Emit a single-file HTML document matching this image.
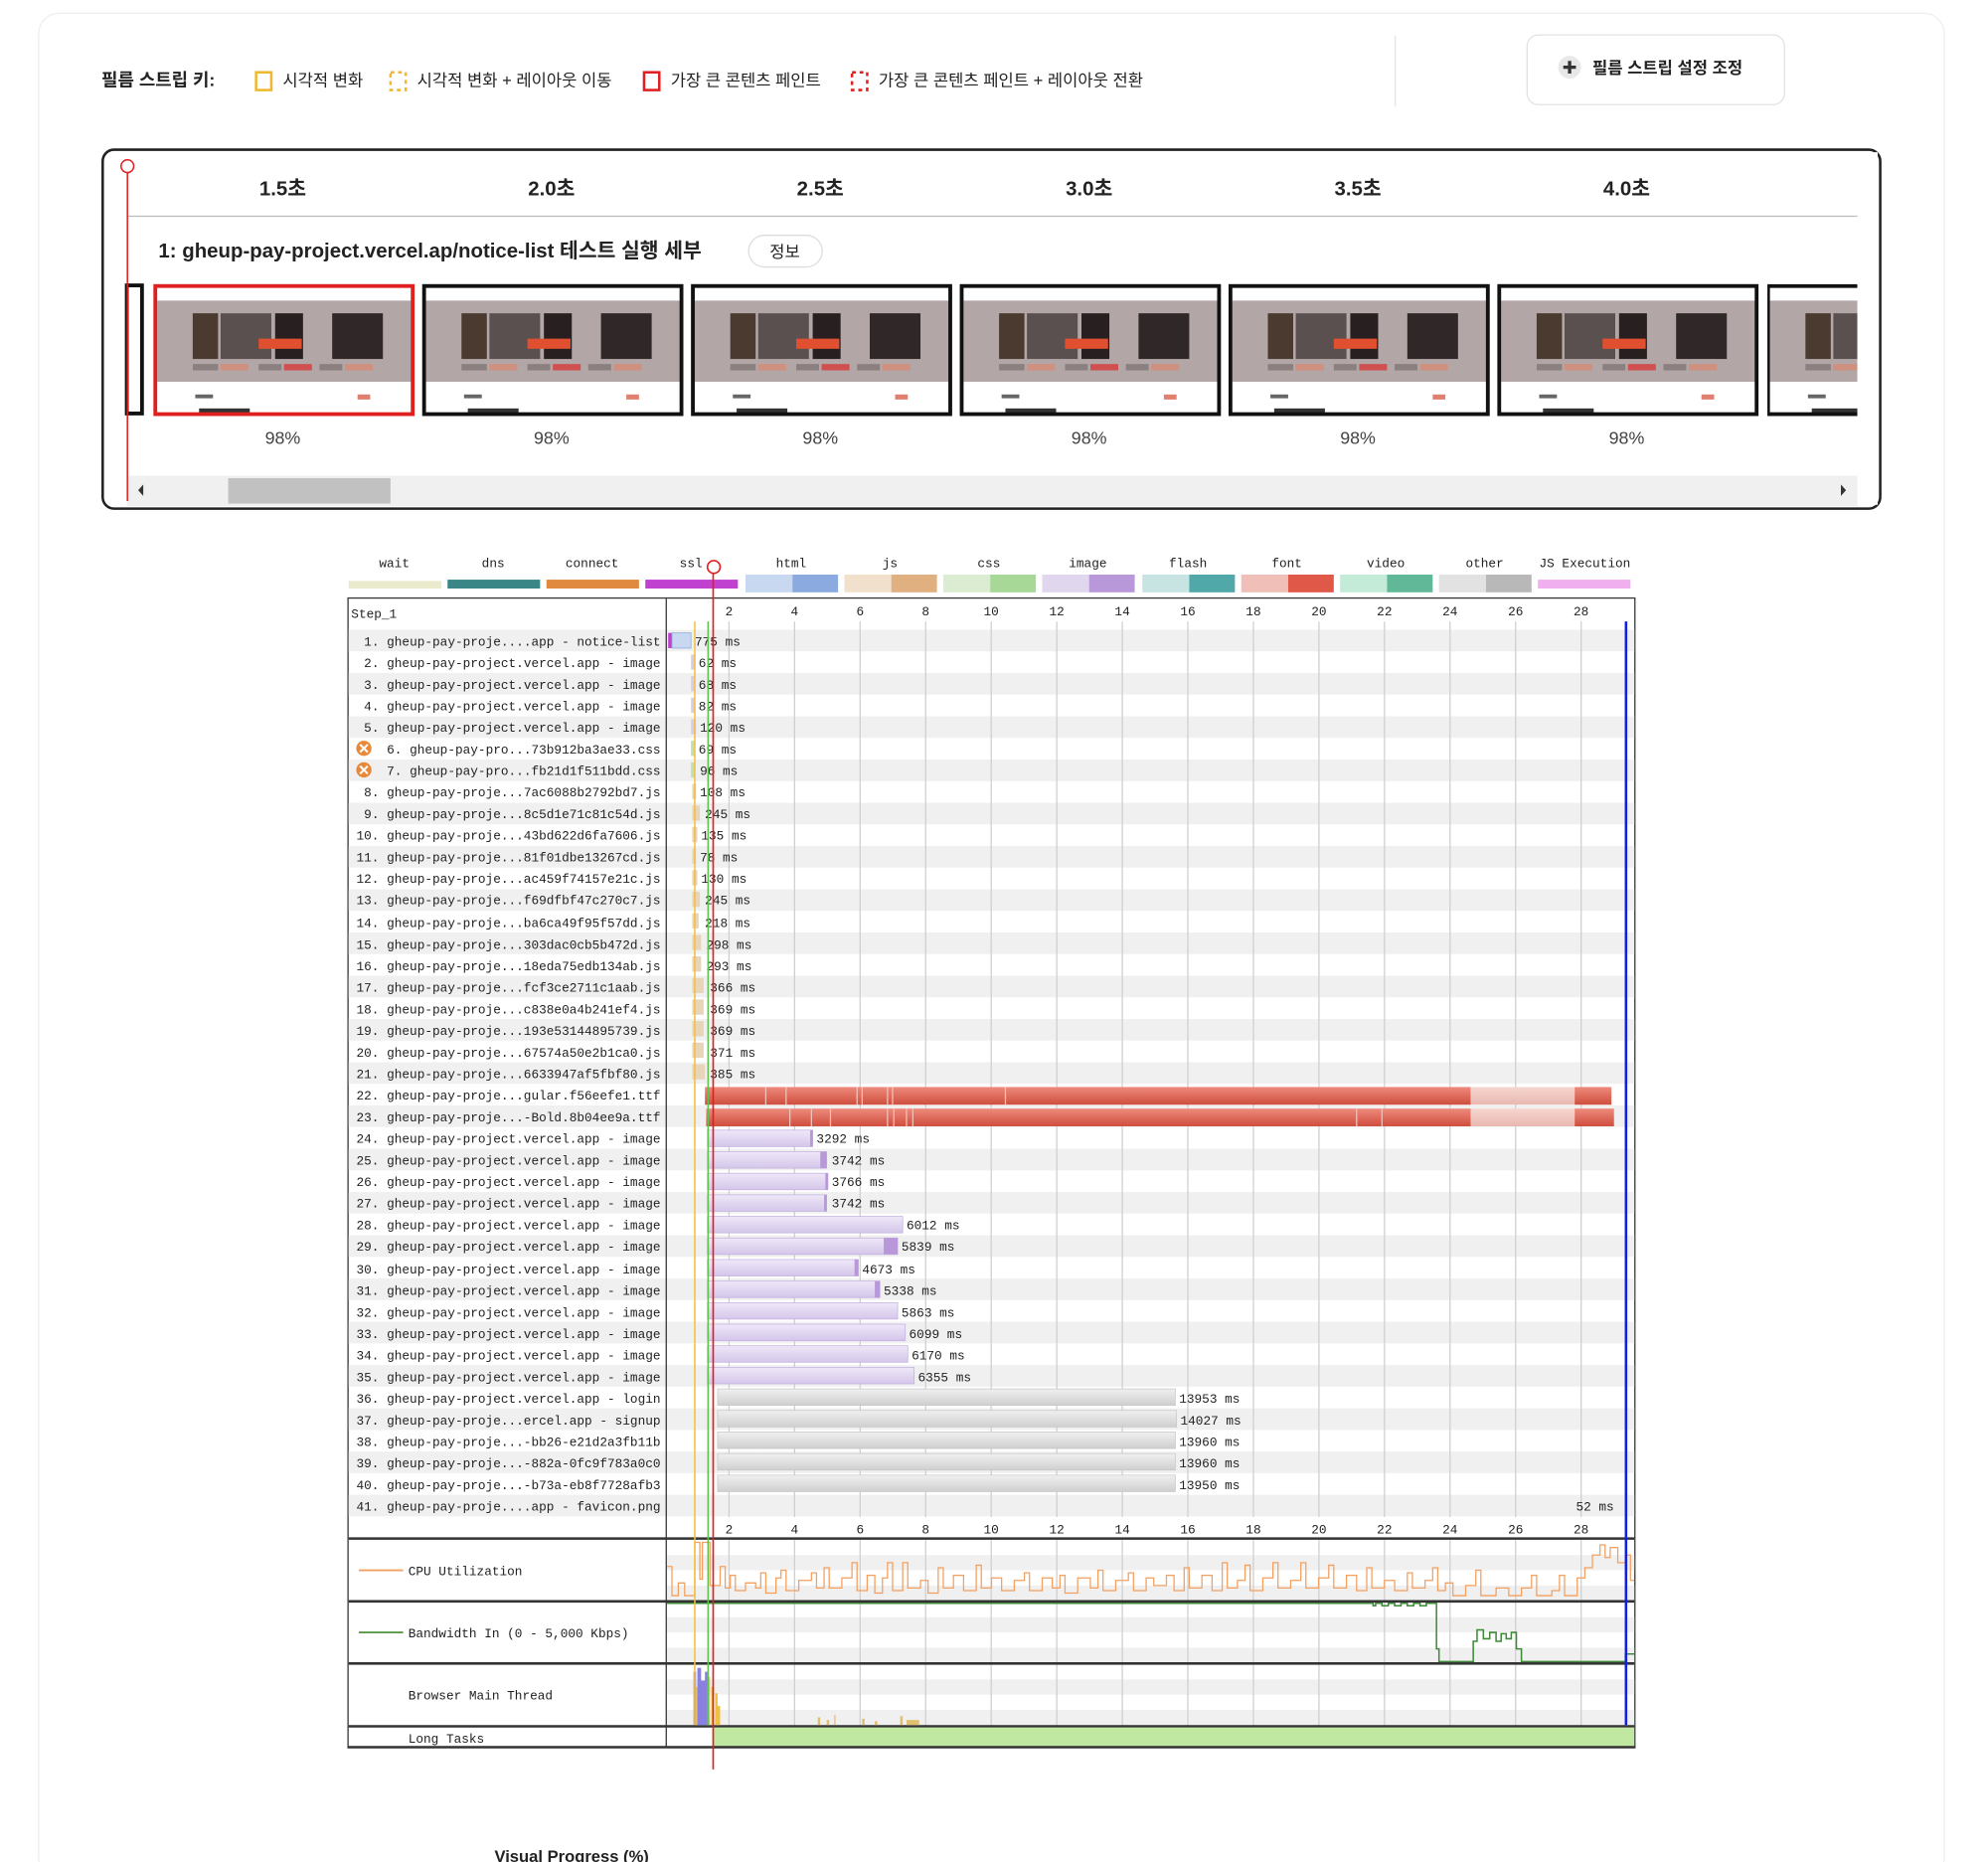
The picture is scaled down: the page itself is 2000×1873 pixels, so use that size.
<!DOCTYPE html>
<html><head><meta charset="utf-8"><style>
html,body{margin:0;padding:0;background:#fff;width:2000px;height:1873px;overflow:hidden}
svg{display:block}
.k{font-family:"Liberation Sans","Noto Sans CJK KR",sans-serif;fill:#222}
.m{font-family:"Liberation Mono","DejaVu Sans Mono",monospace;font-size:10px;fill:#222}
</style></head><body>
<svg width="2000" height="1873" viewBox="0 0 1568 1468" preserveAspectRatio="none" xmlns="http://www.w3.org/2000/svg">
<defs>
<linearGradient id="gi" x1="0" y1="0" x2="0" y2="1"><stop offset="0" stop-color="#efe8f8"/><stop offset="1" stop-color="#d4c6ea"/></linearGradient>
<linearGradient id="gg" x1="0" y1="0" x2="0" y2="1"><stop offset="0" stop-color="#f0f0f0"/><stop offset="1" stop-color="#cfcfcf"/></linearGradient>
<linearGradient id="gr" x1="0" y1="0" x2="0" y2="1"><stop offset="0" stop-color="#ee8a7c"/><stop offset="1" stop-color="#cf4e3e"/></linearGradient>
<linearGradient id="grl" x1="0" y1="0" x2="0" y2="1"><stop offset="0" stop-color="#f6d6d0"/><stop offset="1" stop-color="#e8b8b0"/></linearGradient>
<g id="thumb">
<rect x="0" y="0" width="205" height="103" fill="#fff"/>
<rect x="2" y="12" width="201" height="64" fill="#b2a6a6"/>
<rect x="30" y="22" width="20" height="36" fill="#4a3a30"/>
<rect x="52" y="22" width="40" height="36" fill="#5a5050"/>
<rect x="95" y="22" width="22" height="36" fill="#282020"/>
<rect x="140" y="22" width="40" height="36" fill="#302828"/>
<rect x="82" y="42" width="34" height="8" fill="#e05030"/>
<rect x="30" y="62" width="20" height="5" fill="#8a8080"/><rect x="52" y="62" width="22" height="5" fill="#d09080"/>
<rect x="82" y="62" width="18" height="5" fill="#8a8080"/><rect x="102" y="62" width="22" height="5" fill="#d05050"/>
<rect x="130" y="62" width="18" height="5" fill="#8a8080"/><rect x="150" y="62" width="22" height="5" fill="#d09080"/>
<rect x="32" y="86" width="14" height="3" fill="#666"/><rect x="160" y="86" width="10" height="4" fill="#e08070"/>
<rect x="35" y="97" width="40" height="4" fill="#333"/>
</g>
</defs>
<rect x="30.5" y="10.5" width="1503" height="1470" rx="16" fill="#fff" stroke="#eee"/>
<text class="k" x="80" y="68" font-size="14" font-weight="bold">필름 스트립 키:</text>
<rect x="202" y="57" width="12" height="14" fill="none" stroke="#f0b830" stroke-width="2"/>
<text class="k" x="223" y="68" font-size="13">시각적 변화</text>
<rect x="308" y="57" width="12" height="14" fill="none" stroke="#f0b830" stroke-width="2" stroke-dasharray="3,3"/>
<text class="k" x="329" y="68" font-size="13">시각적 변화 + 레이아웃 이동</text>
<rect x="508" y="57" width="12" height="14" fill="none" stroke="#e02020" stroke-width="2"/>
<text class="k" x="529" y="68" font-size="13">가장 큰 콘텐츠 페인트</text>
<rect x="672" y="57" width="12" height="14" fill="none" stroke="#e02020" stroke-width="2" stroke-dasharray="3,3"/>
<text class="k" x="693" y="68" font-size="13">가장 큰 콘텐츠 페인트 + 레이아웃 전환</text>
<line x1="1100.5" y1="28" x2="1100.5" y2="84" stroke="#e4e4e4"/>
<rect x="1204.5" y="27.5" width="203" height="55" rx="9" fill="#fff" stroke="#e2e2e2"/>
<circle cx="1238" cy="53" r="9" fill="#e8e8e8"/>
<path d="M1238 48v10M1233 53h10" stroke="#333" stroke-width="2.6"/>
<text class="k" x="1256" y="58" font-size="13" font-weight="bold">필름 스트립 설정 조정</text>
<rect x="81" y="118" width="1402" height="283" rx="9" fill="#fff" stroke="#222" stroke-width="2"/>
<line x1="100" y1="170.5" x2="1465" y2="170.5" stroke="#bbb"/>
<g class="k" font-size="16" font-weight="bold" text-anchor="middle">
<text x="223" y="154">1.5초</text><text x="435" y="154">2.0초</text><text x="647" y="154">2.5초</text><text x="859" y="154">3.0초</text><text x="1071" y="154">3.5초</text><text x="1283" y="154">4.0초</text>
</g>
<text class="k" x="125" y="203" font-size="16" font-weight="bold">1: gheup-pay-project.vercel.ap/notice-list 테스트 실행 세부</text>
<rect x="590.5" y="185.5" width="58" height="25" rx="12.5" fill="#fff" stroke="#ddd"/>
<text class="k" x="619" y="203" font-size="13" text-anchor="middle">정보</text>
<rect x="100" y="225" width="12" height="101" fill="#fff" stroke="#111" stroke-width="3"/>
<g>
<use href="#thumb" x="122" y="225"/><rect x="122.5" y="225.5" width="203" height="101" fill="none" stroke="#e02020" stroke-width="3"/>
<use href="#thumb" x="334" y="225"/><rect x="334.5" y="225.5" width="203" height="101" fill="none" stroke="#111" stroke-width="3"/>
<use href="#thumb" x="546" y="225"/><rect x="546.5" y="225.5" width="203" height="101" fill="none" stroke="#111" stroke-width="3"/>
<use href="#thumb" x="758" y="225"/><rect x="758.5" y="225.5" width="203" height="101" fill="none" stroke="#111" stroke-width="3"/>
<use href="#thumb" x="970" y="225"/><rect x="970.5" y="225.5" width="203" height="101" fill="none" stroke="#111" stroke-width="3"/>
<use href="#thumb" x="1182" y="225"/><rect x="1182.5" y="225.5" width="203" height="101" fill="none" stroke="#111" stroke-width="3"/>
<svg x="1394" y="224" width="71" height="105"><use href="#thumb" x="0" y="1"/><rect x="0.5" y="1.5" width="203" height="101" fill="none" stroke="#111" stroke-width="3"/></svg>
</g>
<rect x="1465" y="120" width="16" height="278" fill="#fff"/>
<g class="k" font-size="14" text-anchor="middle">
<text x="223" y="350" fill="#444">98%</text><text x="435" y="350" fill="#444">98%</text><text x="647" y="350" fill="#444">98%</text><text x="859" y="350" fill="#444">98%</text><text x="1071" y="350" fill="#444">98%</text><text x="1283" y="350" fill="#444">98%</text>
</g>
<rect x="100" y="375" width="1365" height="24" fill="#f0f0f0"/>
<rect x="180" y="377" width="128" height="20" fill="#c1c1c1"/>
<path d="M113 382v9l-4-4.5z" fill="#333"/><path d="M1452 382v9l4-4.5z" fill="#333"/>
<line x1="100.5" y1="136" x2="100.5" y2="395" stroke="#e02020" stroke-width="1.2"/>
<circle cx="100.5" cy="131" r="5" fill="#fff" stroke="#e02020" stroke-width="1.2"/>

<g class="m" text-anchor="middle">
<text x="311" y="447">wait</text><text x="389" y="447">dns</text><text x="467" y="447">connect</text><text x="545" y="447">ssl</text><text x="624" y="447">html</text><text x="702" y="447">js</text><text x="780" y="447">css</text><text x="858" y="447">image</text><text x="937" y="447">flash</text><text x="1015" y="447">font</text><text x="1093" y="447">video</text><text x="1171" y="447">other</text><text x="1250" y="447">JS Execution</text>
</g>
<rect x="275" y="458" width="73" height="6" fill="#eaeacc"/>
<rect x="353" y="457" width="73" height="7" fill="#3a8585"/>
<rect x="431" y="457" width="73" height="7" fill="#e08a40"/>
<rect x="509" y="457" width="73" height="7" fill="#c040d0"/>
<rect x="588" y="453" width="37" height="14" fill="#c8d8f0"/><rect x="625" y="453" width="36" height="14" fill="#8aaae0"/>
<rect x="666" y="453" width="37" height="14" fill="#f0e0cc"/><rect x="703" y="453" width="36" height="14" fill="#e0b080"/>
<rect x="744" y="453" width="37" height="14" fill="#dcecd2"/><rect x="781" y="453" width="36" height="14" fill="#a8d898"/>
<rect x="822" y="453" width="37" height="14" fill="#e0d6ee"/><rect x="859" y="453" width="36" height="14" fill="#b898d8"/>
<rect x="901" y="453" width="37" height="14" fill="#c8e4e2"/><rect x="938" y="453" width="36" height="14" fill="#50a8a8"/>
<rect x="979" y="453" width="37" height="14" fill="#f0c0b8"/><rect x="1016" y="453" width="36" height="14" fill="#e05848"/>
<rect x="1057" y="453" width="37" height="14" fill="#c4ead8"/><rect x="1094" y="453" width="36" height="14" fill="#60b898"/>
<rect x="1135" y="453" width="37" height="14" fill="#e2e2e2"/><rect x="1172" y="453" width="36" height="14" fill="#b8b8b8"/>
<rect x="1213" y="457" width="73" height="7" fill="#f0b0f0"/>

<rect x="274.5" y="471.5" width="1015" height="906" fill="#fff" stroke="#333"/>
<text class="m" x="277" y="487">Step_1</text>
<g class="m" text-anchor="middle">
<text x="575" y="485">2</text><text x="626.7" y="485">4</text><text x="678.4" y="485">6</text><text x="730.1" y="485">8</text><text x="781.8" y="485">10</text><text x="833.5" y="485">12</text><text x="885.2" y="485">14</text><text x="936.9" y="485">16</text><text x="988.6" y="485">18</text><text x="1040.3" y="485">20</text><text x="1092" y="485">22</text><text x="1143.7" y="485">24</text><text x="1195.4" y="485">26</text><text x="1247.1" y="485">28</text>
<text x="575" y="1209">2</text><text x="626.7" y="1209">4</text><text x="678.4" y="1209">6</text><text x="730.1" y="1209">8</text><text x="781.8" y="1209">10</text><text x="833.5" y="1209">12</text><text x="885.2" y="1209">14</text><text x="936.9" y="1209">16</text><text x="988.6" y="1209">18</text><text x="1040.3" y="1209">20</text><text x="1092" y="1209">22</text><text x="1143.7" y="1209">24</text><text x="1195.4" y="1209">26</text><text x="1247.1" y="1209">28</text>
</g>
<g fill="#f0f0f0">
<rect x="275" y="496.5" width="1014" height="17"/><rect x="275" y="530.6" width="1014" height="17"/><rect x="275" y="564.7" width="1014" height="17"/><rect x="275" y="598.8" width="1014" height="17"/><rect x="275" y="632.9" width="1014" height="17"/><rect x="275" y="667" width="1014" height="17"/><rect x="275" y="701.1" width="1014" height="17"/><rect x="275" y="735.2" width="1014" height="17"/><rect x="275" y="769.3" width="1014" height="17"/><rect x="275" y="803.4" width="1014" height="17"/><rect x="275" y="837.5" width="1014" height="17"/><rect x="275" y="871.6" width="1014" height="17"/><rect x="275" y="905.7" width="1014" height="17"/><rect x="275" y="939.8" width="1014" height="17"/><rect x="275" y="973.9" width="1014" height="17"/><rect x="275" y="1008" width="1014" height="17"/><rect x="275" y="1042.1" width="1014" height="17"/><rect x="275" y="1076.2" width="1014" height="17"/><rect x="275" y="1110.3" width="1014" height="17"/><rect x="275" y="1144.4" width="1014" height="17"/><rect x="275" y="1178.5" width="1014" height="17"/>
</g>
<g fill="#f0f0f0">
<rect x="526" y="1226" width="763" height="12"/><rect x="526" y="1250" width="763" height="12"/>
<rect x="526" y="1275" width="763" height="12"/><rect x="526" y="1299" width="763" height="12"/>
<rect x="526" y="1324" width="763" height="12"/><rect x="526" y="1348" width="763" height="12"/>
</g>
<g stroke="#cfcfcf" stroke-width="1">
<path d="M575 490V1196M626.7 490V1196M678.4 490V1196M730.1 490V1196M781.8 490V1196M833.5 490V1196M885.2 490V1196M936.9 490V1196M988.6 490V1196M1040.3 490V1196M1092 490V1196M1143.7 490V1196M1195.4 490V1196M1247.1 490V1196"/>
<path d="M575 1214V1361M626.7 1214V1361M678.4 1214V1361M730.1 1214V1361M781.8 1214V1361M833.5 1214V1361M885.2 1214V1361M936.9 1214V1361M988.6 1214V1361M1040.3 1214V1361M1092 1214V1361M1143.7 1214V1361M1195.4 1214V1361M1247.1 1214V1361"/>
</g>
<line x1="525.5" y1="472" x2="525.5" y2="1377" stroke="#333"/>
<g stroke="#333" stroke-width="2">
<line x1="275" y1="1213" x2="1289" y2="1213"/><line x1="275" y1="1262.5" x2="1289" y2="1262.5"/><line x1="275" y1="1311.5" x2="1289" y2="1311.5"/><line x1="275" y1="1361" x2="1289" y2="1361"/>
</g>
<g class="m" text-anchor="end">
<text x="521" y="509">1. gheup-pay-proje....app - notice-list</text>
<text x="521" y="526">2. gheup-pay-project.vercel.app - image</text>
<text x="521" y="543">3. gheup-pay-project.vercel.app - image</text>
<text x="521" y="560">4. gheup-pay-project.vercel.app - image</text>
<text x="521" y="577">5. gheup-pay-project.vercel.app - image</text>
<text x="521" y="594">6. gheup-pay-pro...73b912ba3ae33.css</text>
<text x="521" y="611">7. gheup-pay-pro...fb21d1f511bdd.css</text>
<text x="521" y="628">8. gheup-pay-proje...7ac6088b2792bd7.js</text>
<text x="521" y="645">9. gheup-pay-proje...8c5d1e71c81c54d.js</text>
<text x="521" y="662">10. gheup-pay-proje...43bd622d6fa7606.js</text>
<text x="521" y="679">11. gheup-pay-proje...81f01dbe13267cd.js</text>
<text x="521" y="696">12. gheup-pay-proje...ac459f74157e21c.js</text>
<text x="521" y="713">13. gheup-pay-proje...f69dfbf47c270c7.js</text>
<text x="521" y="731">14. gheup-pay-proje...ba6ca49f95f57dd.js</text>
<text x="521" y="748">15. gheup-pay-proje...303dac0cb5b472d.js</text>
<text x="521" y="765">16. gheup-pay-proje...18eda75edb134ab.js</text>
<text x="521" y="782">17. gheup-pay-proje...fcf3ce2711c1aab.js</text>
<text x="521" y="799">18. gheup-pay-proje...c838e0a4b241ef4.js</text>
<text x="521" y="816">19. gheup-pay-proje...193e53144895739.js</text>
<text x="521" y="833">20. gheup-pay-proje...67574a50e2b1ca0.js</text>
<text x="521" y="850">21. gheup-pay-proje...6633947af5fbf80.js</text>
<text x="521" y="867">22. gheup-pay-proje...gular.f56eefe1.ttf</text>
<text x="521" y="884">23. gheup-pay-proje...-Bold.8b04ee9a.ttf</text>
<text x="521" y="901">24. gheup-pay-project.vercel.app - image</text>
<text x="521" y="918">25. gheup-pay-project.vercel.app - image</text>
<text x="521" y="935">26. gheup-pay-project.vercel.app - image</text>
<text x="521" y="952">27. gheup-pay-project.vercel.app - image</text>
<text x="521" y="969">28. gheup-pay-project.vercel.app - image</text>
<text x="521" y="986">29. gheup-pay-project.vercel.app - image</text>
<text x="521" y="1004">30. gheup-pay-project.vercel.app - image</text>
<text x="521" y="1021">31. gheup-pay-project.vercel.app - image</text>
<text x="521" y="1038">32. gheup-pay-project.vercel.app - image</text>
<text x="521" y="1055">33. gheup-pay-project.vercel.app - image</text>
<text x="521" y="1072">34. gheup-pay-project.vercel.app - image</text>
<text x="521" y="1089">35. gheup-pay-project.vercel.app - image</text>
<text x="521" y="1106">36. gheup-pay-project.vercel.app - login</text>
<text x="521" y="1123">37. gheup-pay-proje...ercel.app - signup</text>
<text x="521" y="1140">38. gheup-pay-proje...-bb26-e21d2a3fb11b</text>
<text x="521" y="1157">39. gheup-pay-proje...-882a-0fc9f783a0c0</text>
<text x="521" y="1174">40. gheup-pay-proje...-b73a-eb8f7728afb3</text>
<text x="521" y="1191">41. gheup-pay-proje....app - favicon.png</text>
</g>
<circle cx="287" cy="590" r="6" fill="#e8893a"/><path d="M284 587l6 6M290 587l-6 6" stroke="#fff" stroke-width="1.6"/>
<circle cx="287" cy="607" r="6" fill="#e8893a"/><path d="M284 604l6 6M290 604l-6 6" stroke="#fff" stroke-width="1.6"/>
<rect x="527" y="499" width="3" height="12" fill="#c040d0"/>
<rect x="530" y="499" width="15" height="12" fill="#c8d8f0" stroke="#8aaae0" stroke-width="0.6"/>
<g fill="#d8cceb"><rect x="545" y="516" width="3" height="12"/><rect x="545" y="533" width="3" height="12"/><rect x="545" y="550" width="3" height="12"/><rect x="545" y="567" width="4" height="12"/></g>
<g fill="#bfe0b0"><rect x="545" y="584" width="3" height="12"/><rect x="545" y="601" width="3" height="12"/></g>
<g fill="#e8d4b8"><rect x="546" y="618" width="3" height="12"/><rect x="546" y="635" width="6" height="12"/><rect x="546" y="652" width="4" height="12"/><rect x="546" y="669" width="3" height="12"/><rect x="546" y="686" width="4" height="12"/><rect x="546" y="703" width="6" height="12"/><rect x="546" y="720" width="5" height="12"/><rect x="546" y="737" width="7" height="12"/><rect x="546" y="754" width="7" height="12"/><rect x="546" y="771" width="9" height="12"/><rect x="546" y="788" width="9" height="12"/><rect x="546" y="805" width="9" height="12"/><rect x="546" y="822" width="9" height="12"/><rect x="546" y="839" width="10" height="12"/></g>
<g class="m">
<text x="548" y="509">775 ms</text><text x="551" y="526">62 ms</text><text x="551" y="543">68 ms</text><text x="551" y="560">82 ms</text><text x="552" y="577">120 ms</text><text x="551" y="594">69 ms</text><text x="552" y="611">96 ms</text><text x="552" y="628">108 ms</text><text x="556" y="645">245 ms</text><text x="553" y="662">135 ms</text><text x="552" y="679">78 ms</text><text x="553" y="696">130 ms</text><text x="556" y="713">245 ms</text><text x="556" y="731">218 ms</text><text x="557" y="748">298 ms</text><text x="557" y="765">293 ms</text><text x="560" y="782">366 ms</text><text x="560" y="799">369 ms</text><text x="560" y="816">369 ms</text><text x="560" y="833">371 ms</text><text x="560" y="850">385 ms</text>
</g>
<rect x="556" y="857" width="604" height="14" fill="url(#gr)"/><rect x="1160" y="857" width="82" height="14" fill="url(#grl)"/><rect x="1242" y="857" width="29" height="14" fill="url(#gr)"/>
<rect x="557" y="874" width="603" height="14" fill="url(#gr)"/><rect x="1160" y="874" width="82" height="14" fill="url(#grl)"/><rect x="1242" y="874" width="31" height="14" fill="url(#gr)"/>
<g stroke="#f4c0b8" stroke-width="1"><path d="M604 857v14M620 857v14M676 857v14M680 857v14M700 857v14M704 857v14M793 857v14M623 874v14M640 874v14M655 874v14M700 874v14M705 874v14M715 874v14M720 874v14M1070 874v14M1090 874v14"/></g>
<g fill="url(#gi)" stroke="#c4b2e0" stroke-width="0.6">
<rect x="558" y="891" width="83" height="13"/><rect x="558" y="908" width="94" height="13"/><rect x="558" y="925" width="95" height="13"/><rect x="558" y="942" width="94" height="13"/><rect x="558" y="959" width="154" height="13"/><rect x="558" y="976" width="150" height="13"/><rect x="558" y="993" width="119" height="13"/><rect x="558" y="1010" width="136" height="13"/><rect x="558" y="1027" width="150" height="13"/><rect x="558" y="1044" width="156" height="13"/><rect x="558" y="1061" width="158" height="13"/><rect x="558" y="1078" width="163" height="13"/>
</g>
<g fill="#b898d8"><rect x="639" y="891" width="2" height="13"/><rect x="647" y="908" width="5" height="13"/><rect x="651" y="925" width="2" height="13"/><rect x="650" y="942" width="2" height="13"/><rect x="697" y="976" width="11" height="13"/><rect x="674" y="993" width="3" height="13"/><rect x="690" y="1010" width="4" height="13"/></g>
<g class="m">
<text x="644" y="901">3292 ms</text><text x="656" y="918">3742 ms</text><text x="656" y="935">3766 ms</text><text x="656" y="952">3742 ms</text><text x="715" y="969">6012 ms</text><text x="711" y="986">5839 ms</text><text x="680" y="1004">4673 ms</text><text x="697" y="1021">5338 ms</text><text x="711" y="1038">5863 ms</text><text x="717" y="1055">6099 ms</text><text x="719" y="1072">6170 ms</text><text x="724" y="1089">6355 ms</text>
</g>
<g fill="url(#gg)" stroke="#c8c8c8" stroke-width="0.6">
<rect x="566" y="1095" width="361" height="13"/><rect x="566" y="1112" width="362" height="13"/><rect x="566" y="1129" width="361" height="13"/><rect x="566" y="1146" width="361" height="13"/><rect x="566" y="1163" width="361" height="13"/>
</g>
<g class="m">
<text x="930" y="1106">13953 ms</text><text x="931" y="1123">14027 ms</text><text x="930" y="1140">13960 ms</text><text x="930" y="1157">13960 ms</text><text x="930" y="1174">13950 ms</text><text x="1243" y="1191">52 ms</text>
</g>
<line x1="283" y1="1238" x2="318" y2="1238" stroke="#f4a060" stroke-width="1.5"/>
<text class="m" x="322" y="1242">CPU Utilization</text>
<line x1="283" y1="1287" x2="318" y2="1287" stroke="#5a9a4a" stroke-width="1.5"/>
<text class="m" x="322" y="1291">Bandwidth In (0 - 5,000 Kbps)</text>
<text class="m" x="322" y="1340">Browser Main Thread</text>
<text class="m" x="322" y="1374">Long Tasks</text>
<polyline fill="none" stroke="#f4a060" stroke-width="1" points="526,1235 530,1235 530,1258 535,1258 535,1248 540,1248 540,1258 548,1258 548,1216 552,1216 552,1245 554,1245 554,1216 560,1216 560,1250 568,1250 568,1235 572,1235 572,1252 576,1252 576,1242 580,1242 580,1254 588,1254 588,1248 596,1248 596,1252 600,1252 600,1240 604,1240 604,1256 612,1256 612,1244 616,1244 616,1238 620,1238 620,1254 630,1254 630,1246 640,1246 640,1240 644,1240 644,1252 650,1252 650,1236 654,1236 654,1252 664,1252 664,1244 672,1244 672,1232 676,1232 676,1254 684,1254 684,1242 690,1242 690,1256 696,1256 696,1244 700,1244 700,1232 704,1232 704,1254 712,1254 712,1232 716,1232 716,1252 726,1252 726,1246 732,1246 732,1256 740,1256 740,1236 744,1236 744,1252 752,1252 752,1242 760,1242 760,1254 770,1254 770,1234 774,1234 774,1252 782,1252 782,1244 790,1244 790,1254 800,1254 800,1246 808,1246 808,1240 812,1240 812,1254 822,1254 822,1244 830,1244 830,1252 836,1252 836,1242 840,1242 840,1256 850,1256 850,1244 860,1244 860,1252 866,1252 866,1238 870,1238 870,1254 880,1254 880,1246 890,1246 890,1240 894,1240 894,1254 904,1254 904,1244 910,1244 910,1250 920,1250 920,1242 926,1242 926,1254 934,1254 934,1236 938,1236 938,1252 948,1252 948,1242 956,1242 956,1254 964,1254 964,1232 968,1232 968,1252 976,1252 976,1246 982,1246 982,1234 986,1234 986,1254 996,1254 996,1244 1004,1244 1004,1232 1008,1232 1008,1252 1018,1252 1018,1246 1026,1246 1026,1232 1030,1232 1030,1252 1040,1252 1040,1244 1048,1244 1048,1234 1052,1234 1052,1252 1062,1252 1062,1242 1070,1242 1070,1254 1078,1254 1078,1236 1082,1236 1082,1252 1092,1252 1092,1246 1100,1246 1100,1254 1110,1254 1110,1240 1114,1240 1114,1252 1124,1252 1124,1246 1130,1246 1130,1236 1134,1236 1134,1254 1140,1254 1140,1248 1146,1248 1146,1258 1156,1258 1156,1250 1164,1250 1164,1238 1168,1238 1168,1258 1180,1258 1180,1252 1190,1252 1190,1258 1200,1258 1200,1252 1208,1252 1208,1242 1212,1242 1212,1258 1224,1258 1224,1254 1230,1254 1230,1242 1234,1242 1234,1258 1244,1258 1244,1244 1250,1244 1250,1236 1256,1236 1256,1226 1262,1226 1262,1218 1266,1218 1266,1228 1270,1228 1270,1220 1276,1220 1276,1232 1282,1232 1282,1226 1286,1226 1286,1246 1289,1246"/>
<polyline fill="none" stroke="#3f8a3a" stroke-width="1.2" points="526,1264 1083,1264 1083,1266 1085,1266 1085,1264 1090,1264 1090,1266 1095,1266 1095,1264 1100,1264 1100,1266 1105,1266 1105,1264 1110,1264 1110,1266 1115,1266 1115,1264 1120,1264 1120,1266 1125,1266 1125,1264 1133,1264 1133,1300 1135,1300 1135,1310 1162,1310 1162,1294 1165,1294 1165,1285 1170,1285 1170,1292 1175,1292 1175,1287 1180,1287 1180,1294 1184,1294 1184,1288 1188,1288 1188,1292 1192,1292 1192,1287 1196,1287 1196,1300 1200,1300 1200,1310 1282,1310 1282,1304 1289,1304"/>
<path d="M547 1360V1318h2v42zM550 1360V1315h3v45zM553 1360V1325h3v35zM556 1360V1318h2v42z" fill="#8a80e0"/>
<path d="M549 1360V1330h1v30zM558 1360V1322h2v38zM561 1360V1330h2v30zM564 1360V1335h2v25zM566 1360V1345h2v15z" fill="#f0c040"/>
<path d="M645 1360v-6h2v6zM652 1360v-4h2v4zM658 1360v-8h1v8zM680 1360v-5h2v5zM690 1360v-3h2v3zM710 1360v-7h2v7zM715 1360v-4h10v4z" fill="#e0c070"/>
<rect x="562" y="1362" width="727" height="15" fill="#c0e8a0"/>
<line x1="274" y1="1377.5" x2="1290" y2="1377.5" stroke="#333" stroke-width="2"/>
<line x1="548" y1="490" x2="548" y2="1360" stroke="#f0c040" stroke-width="1.2"/>
<line x1="558.5" y1="490" x2="558.5" y2="1360" stroke="#60c050" stroke-width="1.2"/>
<line x1="1282.5" y1="490" x2="1282.5" y2="1360" stroke="#1020e0" stroke-width="2"/>
<line x1="562.5" y1="452" x2="562.5" y2="1395" stroke="#e02020" stroke-width="1.3"/>
<circle cx="563" cy="447" r="5" fill="#fff" stroke="#e02020" stroke-width="1.3"/>
<text class="k" x="390" y="1468" font-size="13" font-weight="bold">Visual Progress (%)</text>
</svg>
</body></html>
